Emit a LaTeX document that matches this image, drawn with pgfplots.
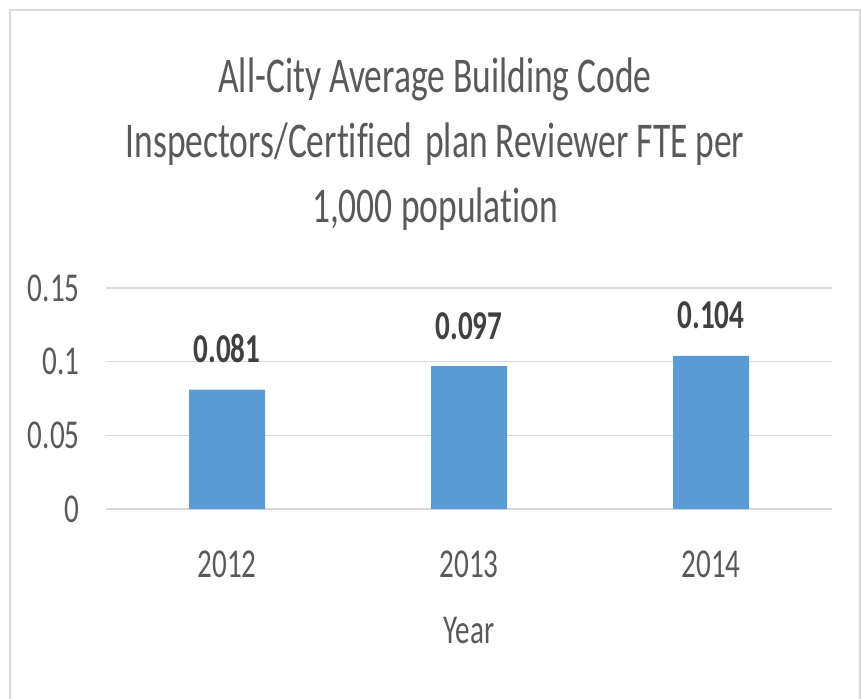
\documentclass[border=0pt]{standalone}
\usepackage{fontspec}
\setmainfont{Carlito}[FakeStretch=0.71, Ligatures=NoCommon]
\usepackage{pgfplots}
\pgfplotsset{compat=1.18}
\definecolor{barblue}{HTML}{5B9BD5}
\definecolor{txtgray}{HTML}{595959}
\definecolor{gridgray}{HTML}{D9D9D9}
\definecolor{lblgray}{HTML}{404040}
\begin{document}
\begin{tikzpicture}
\path[use as bounding box] (0,0) rectangle (430.5pt,349pt);
\draw[gridgray, line width=1pt] (5pt,-2pt) -- (5pt,344pt) -- (430pt,344pt) -- (430pt,-2pt);
\node[anchor=base, text=txtgray, font=\fontsize{25}{30}\selectfont, inner sep=0pt] at (217.5pt,303pt) {All-City Average Building Code};
\node[anchor=base, text=txtgray, font=\fontsize{25}{30}\selectfont, inner sep=0pt] at (217.5pt,270.5pt) {Inspectors/Certified\hspace{0.26em}plan Reviewer FTE per};
\node[anchor=base, text=txtgray, font=\fontsize{25}{30}\selectfont, inner sep=0pt] at (217.5pt,238pt) {1,000 population};
\begin{axis}[
  at={(53pt,94.5pt)}, anchor=south west,
  scale only axis, width=363pt, height=110.5pt,
  xmin=-0.5, xmax=2.5, ymin=0, ymax=0.15,
  ytick={0,0.05,0.1,0.15},
  xtick={0,1,2}, xticklabels={2012,2013,2014},
  ymajorgrids, grid style={gridgray, line width=0.75pt},
  axis line style={draw=none},
  major tick length=0pt,
  /pgf/number format/fixed, /pgf/number format/precision=3,
  /pgf/number format/assume math mode=true,
  tick label style={font=\fontsize{20.5}{24}\selectfont, text=txtgray},
  yticklabel style={anchor=east, inner sep=0pt, xshift=-13pt},
  xticklabel style={anchor=north, inner sep=0pt, yshift=-20.5pt},
  xlabel={Year},
  xlabel style={at={(axis description cs:0.5,0)}, anchor=base, yshift=-67pt, inner sep=0pt, font=\fontsize{20.5}{24}\selectfont, text=txtgray},
]
\addplot[ybar, fill=barblue, draw=none, bar width=38pt,
  nodes near coords,
  nodes near coords style={font=\bfseries\fontsize{20.5}{24}\selectfont, text=lblgray, anchor=base, inner sep=0pt, yshift=13.5pt}]
  coordinates {(0,0.081) (1,0.097) (2,0.104)};
\end{axis}
\end{tikzpicture}
\end{document}
